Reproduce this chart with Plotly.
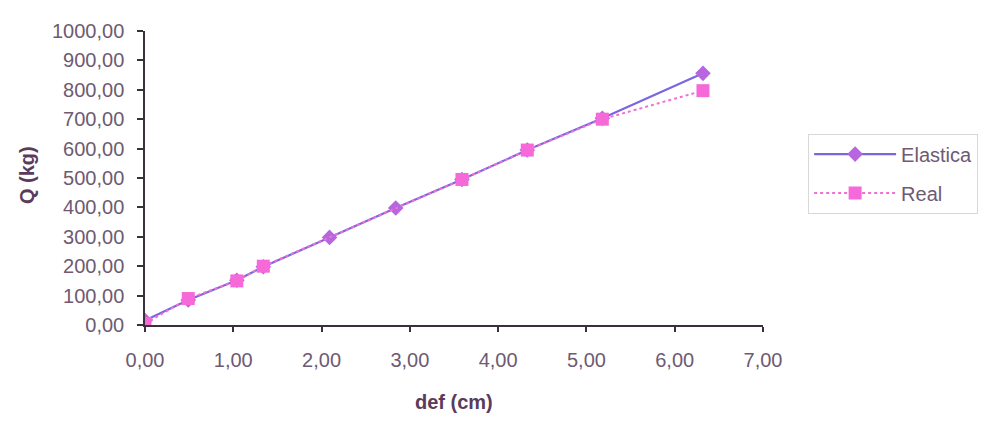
import plotly.graph_objects as go

# Data
real_def = [0.0, 0.49, 1.04, 1.34, 3.59, 4.33, 5.18, 6.32]
real_q = [5, 90, 150, 200, 495, 595, 700, 797]
elas_def = [0.0, 0.49, 1.04, 1.34, 2.09, 2.84, 3.59, 4.33, 5.18, 6.32]
elas_q = [15, 85, 152, 198, 298, 398, 495, 595, 703, 856]

x_ticks = [0, 1, 2, 3, 4, 5, 6, 7]
y_ticks = [0, 100, 200, 300, 400, 500, 600, 700, 800, 900, 1000]

text_col = "#6e5a72"
title_col = "#5a3b5c"
axis_col = "#3a2f3c"

fig = go.Figure()
fig.add_trace(go.Scatter(
    x=elas_def, y=elas_q, name="Elastica", mode="lines+markers",
    legendgroup="a",
    line=dict(color="#7a66e0", width=2.2),
    marker=dict(symbol="diamond", size=12, color="#b866e0", line=dict(width=0)),
))
fig.add_trace(go.Scatter(
    x=real_def, y=real_q, name="Real", mode="lines+markers",
    legendgroup="b",
    line=dict(color="#f070d8", width=2, dash="dot"),
    marker=dict(symbol="square", size=13, color="#f56ad8", line=dict(width=0)),
))

fig.update_layout(
    width=1001, height=422,
    margin=dict(l=137, r=246, t=12, b=105),
    paper_bgcolor="white", plot_bgcolor="white",
    separators=",.",
    font=dict(family="Liberation Sans, Arial, sans-serif", size=20, color=text_col),
    showlegend=True,
    legend=dict(
        x=1.073, y=0.515, xanchor="left", yanchor="middle",
        bordercolor="#d8d8d8", borderwidth=1, bgcolor="white",
        font=dict(size=20, color=text_col),
        itemwidth=82, tracegroupgap=10,
    ),
    annotations=[
        dict(text="<b>def (cm)</b>", xref="paper", yref="paper", x=0.50, y=0,
             xanchor="center", yanchor="middle", yshift=-77, showarrow=False,
             font=dict(size=20, color=title_col)),
        dict(text="<b>Q (kg)</b>", xref="paper", yref="paper", x=0, y=0.51,
             xanchor="center", yanchor="middle", xshift=-118, textangle=-90,
             showarrow=False, font=dict(size=20, color=title_col)),
    ],
)
fig.update_xaxes(
    range=[0, 7], tickvals=x_ticks, tickformat=".2f",
    showgrid=False, zeroline=False,
    showline=True, linecolor=axis_col, linewidth=2,
    ticks="outside", ticklen=5, tickcolor=axis_col, tickwidth=1.5,
    ticklabelstandoff=11,
    tickfont=dict(size=20, color=text_col),
)
fig.update_yaxes(
    range=[0, 1000], tickvals=y_ticks, tickformat=".2f",
    showgrid=False, zeroline=False,
    showline=True, linecolor=axis_col, linewidth=1.5,
    ticks="outside", ticklen=6, tickcolor=axis_col, tickwidth=1.5,
    ticklabelstandoff=9,
    tickfont=dict(size=20, color=text_col),
)

fig.write_html("out.html")
